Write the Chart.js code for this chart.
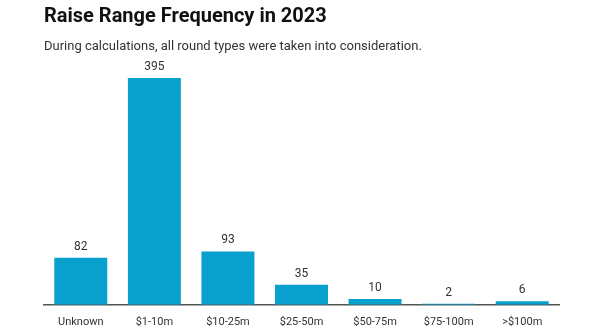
<!DOCTYPE html>
<html>
<head>
<meta charset="utf-8">
<script src="https://cdn.jsdelivr.net/npm/chart.js@4.4.1/dist/chart.umd.min.js"></script>
<style>
  html, body { margin: 0; padding: 0; background: #fff; }
  #wrap { position: relative; width: 600px; height: 335px; font-family: Roboto, "Noto Sans", sans-serif; }
  #title { position: absolute; left: 44px; top: 3px; font-size: 20px; font-weight: 700; color: #111; }
  #subtitle { position: absolute; left: 44px; top: 38px; font-size: 13px; color: #333; }
  canvas { position: absolute; left: 0; top: 0; }
</style>
</head>
<body>
<div id="wrap">
  <canvas id="raiseChart" width="600" height="335"></canvas>
  <div id="title">Raise Range Frequency in 2023</div>
  <div id="subtitle">During calculations, all round types were taken into consideration.</div>
</div>
<script>
const ranges = ["Unknown", "$1-10m", "$10-25m", "$25-50m", "$50-75m", "$75-100m", ">$100m"];
const roundCounts = [82, 395, 93, 35, 10, 2, 6];

// prints each bar's count just above it
const valueLabels = {
  id: 'valueLabels',
  afterDatasetsDraw(chart) {
    const ctx = chart.ctx;
    const meta = chart.getDatasetMeta(0);
    ctx.save();
    ctx.font = '12px Roboto, "Noto Sans", sans-serif';
    ctx.fillStyle = '#333';
    ctx.textAlign = 'center';
    ctx.textBaseline = 'bottom';
    meta.data.forEach((bar, i) => {
      ctx.fillText(roundCounts[i], bar.x, bar.y - 5);
    });
    ctx.restore();
  }
};

new Chart(document.getElementById('raiseChart').getContext('2d'), {
  type: 'bar',
  data: {
    labels: ranges,
    datasets: [{
      data: roundCounts,
      backgroundColor: '#08a0cc',
      borderWidth: 0,
      categoryPercentage: 0.8,
      barPercentage: 0.9
    }]
  },
  options: {
    responsive: false,
    animation: false,
    layout: { padding: { left: 44, right: 41, top: 66, bottom: 3 } },
    plugins: {
      legend: { display: false },
      tooltip: { enabled: false }
    },
    scales: {
      x: {
        grid: { display: false },
        border: { display: true, color: '#555', width: 1.5 },
        ticks: {
          color: '#333',
          padding: 3,
          font: { family: 'Roboto, "Noto Sans", sans-serif', size: 11 }
        }
      },
      y: {
        display: false,
        min: 0,
        max: 416
      }
    }
  },
  plugins: [valueLabels]
});
</script>
</body>
</html>
